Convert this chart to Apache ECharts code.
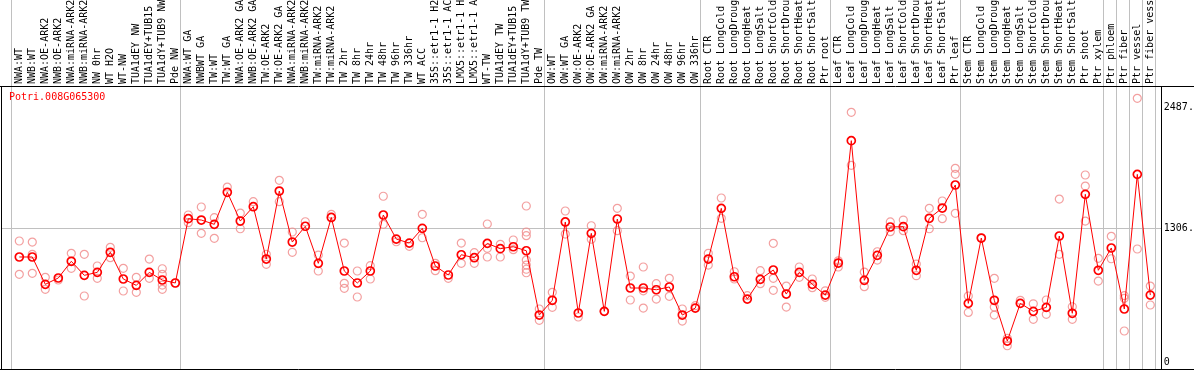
<!DOCTYPE html>
<html><head><meta charset="utf-8">
<script src="https://cdn.jsdelivr.net/npm/echarts@6/dist/echarts.min.js"></script>
<style>html,body{margin:0;padding:0;background:#fff}#c{width:1194px;height:370px}</style>
</head><body><div id="c"></div>
<script>
const geneName = 'Potri.008G065300';
const categories = [
 'NWA:WT','NWB:WT','NWA:OE-ARK2','NWB:OE-ARK2','NWA:miRNA-ARK2','NWB:miRNA-ARK2','NW 0hr','WT H2O','WT-NW','TUA1dEY NW','TUA1dEY+TUB15 NW','TUA1dY+TUB9 NW','Pde NW',
 'NWA:WT GA','NWBWT GA','TW:WT','TW:WT GA','NWA:OE-ARK2 GA','NWB:OE-ARK2 GA','TW:OE-ARK2','TW:OE-ARK2 GA','NWA:miRNA-ARK2 GA','NWB:miRNA-ARK2 GA','TW:miRNA-ARK2','TW:miRNA-ARK2',
 'TW 2hr','TW 8hr','TW 24hr','TW 48hr','TW 96hr','TW 336hr','WT ACC','35S::etr1-1 H2O','35S::etr1-1 ACC','LMX5::etr1-1 H2O','LMX5::etr1-1 ACC','WT-TW','TUA1dEY TW','TUA1dEY+TUB15 TW','TUA1dY+TUB9 TW','Pde TW',
 'OW:WT','OW:WT GA','OW:OE-ARK2','OW:OE-ARK2 GA','OW:miRNA-ARK2','OW:miRNA-ARK2','OW 2hr','OW 8hr','OW 24hr','OW 48hr','OW 96hr','OW 336hr',
 'Root CTR','Root LongCold','Root LongDrought','Root LongHeat','Root LongSalt','Root ShortCold','Root ShortDrought','Root ShortHeat','Root ShortSalt','Ptr root',
 'Leaf CTR','Leaf LongCold','Leaf LongDrought','Leaf LongHeat','Leaf LongSalt','Leaf ShortCold','Leaf ShortDrought','Leaf ShortHeat','Leaf ShortSalt','Ptr leaf',
 'Stem CTR','Stem LongCold','Stem LongDrought','Stem LongHeat','Stem LongSalt','Stem ShortCold','Stem ShortDrought','Stem ShortHeat','Stem ShortSalt','Ptr shoot','Ptr xylem',
 'Ptr phloem','Ptr fiber','Ptr vessel','Ptr fiber vessel'
];
// number of categories before each vertical separator
const groupEnds = [0,13,41,53,63,73,84,85,86,87,88];
const means = [
 1026,1026,759,821,984,847,876,1072,811,749,876,801,772,
 1400,1387,1345,1658,1377,1517,1006,1670,1172,1326,964,1412,889,772,889,1436,1201,1162,1306,938,850,1048,1019,1159,1107,1126,1087,459,
 603,1368,479,1257,495,1397,723,723,706,733,459,527,
 1006,1501,833,615,808,899,664,876,759,654,
 967,2162,798,1042,1319,1322,896,1404,1504,1729,
 573,1211,603,205,573,495,534,1231,476,1638,896,
 1114,518,1833,654
];
const replicates = [
 [1182,857],[1172,1052,866],[827,710],[801],[1062,915],[1052,645],[938,818],[1120,1019],[915,694],[827,681],[1006,818],[911,857,752,710],[772],
 [1436,1361],[1514,1257],[1410,1208],[1709],[1455,1302],[1566],[954,1052],[1775,1566],[1270,1072],[1370],[889,1045],[1443],
 [1162,769,720],[889,635],[941,811],[1619,1345],[1175],[1130],[1443,1214],[964,892],[818],[1162,964],[1068,964],[1348,1111,1026],[1150,1026],[1192,1097],[1524,1270,1234,996,947,906,872],[518,407],
 [681,534],[1475,1250],[440],[1331,1199],[495],[1501,1283],[840,606],[928,527,696],[765,615],[818,642],[518,400],[550],
 [1062,947],[1602,1404],[882,811],[648],[892,765],[1159,818,700],[742,537],[928,827],[811,726],[696,632],
 [989,928],[2439,1921],[879,736],[1077,996],[1368,1273],[1387,1283],[957,843],[1501,1302],[1573,1400],[1892,1833,1452],
 [645,485],[1211],[818,537,459],[159,232],[603],[569,417],[606,466],[1592,1052],[540,417],[1827,1719,1377],[1013,791],
 [1228,1009],[648,622,303],[2576,1104],[742,557]
];
const yTickValues = [0,1306,2487];
const yTickLabels = ['0','1306.','2487.'];
const yGridValues = [1306];

const repPoints = [];
replicates.forEach((arr,i)=>arr.forEach(v=>repPoints.push([i,v])));

const chart = echarts.init(document.getElementById('c'), null, {renderer:'canvas'});
const mono = 'DejaVu Sans Mono';
chart.setOption({
  animation:false,
  backgroundColor:'#fff',
  title:{text:geneName,left:9,top:92,padding:0,textStyle:{color:'#ff0000',fontSize:10,fontWeight:'normal',fontFamily:mono}},
  grid:{left:12.8,right:37.2,top:86,bottom:1,containLabel:false,outerBoundsMode:'none'},
  xAxis:[
    {type:'category',data:categories,position:'top',boundaryGap:true,
     axisLine:{show:false},axisTick:{show:false},splitLine:{show:false},
     axisLabel:{interval:0,rotate:90,margin:2,fontSize:10,fontFamily:mono,color:'#000',hideOverlap:false}},
    {type:'value',min:-0.5,max:87.5,show:false,splitLine:{show:false}}
  ],
  yAxis:{type:'value',position:'right',min:-68,max:2696,
    axisLine:{show:false},axisTick:{show:false},splitLine:{show:false},
    axisLabel:{customValues:yTickValues,margin:7,fontSize:10,fontFamily:mono,color:'#000',
      formatter:(v)=>{const k=yTickValues.indexOf(v);return k>=0?yTickLabels[k]:'';}}},
  series:[
    {type:'scatter',data:repPoints,symbol:'circle',symbolSize:8,z:2,silent:true,
     itemStyle:{color:'rgba(0,0,0,0)',borderColor:'#f08888',borderWidth:1.2}},
    {type:'line',data:means,symbol:'circle',symbolSize:8,z:3,silent:true,showSymbol:true,
     lineStyle:{color:'#ff0000',width:1},
     itemStyle:{color:'rgba(0,0,0,0)',borderColor:'#ff0000',borderWidth:1.7}}
  ]
});

const gray = '#c0c0c0';
const els = [];
groupEnds.forEach(k=>{
  const x = Math.round(chart.convertToPixel({xAxisIndex:1}, k-1+5/13))+0.5;
  els.push({type:'line',z:0,silent:true,shape:{x1:x,y1:0,x2:x,y2:369},style:{stroke:gray,lineWidth:1}});
});
yGridValues.forEach(v=>{
  const y = Math.round(chart.convertToPixel({yAxisIndex:0}, v))+0.5;
  els.push({type:'line',z:0,silent:true,shape:{x1:1,y1:y,x2:1161,y2:y},style:{stroke:gray,lineWidth:1}});
});
const blk = {stroke:'#000',lineWidth:1};
els.push({type:'line',z:10,silent:true,shape:{x1:0,y1:86.5,x2:1194,y2:86.5},style:blk});
els.push({type:'line',z:10,silent:true,shape:{x1:1.5,y1:86,x2:1.5,y2:370},style:blk});
els.push({type:'line',z:10,silent:true,shape:{x1:1161.5,y1:86,x2:1161.5,y2:370},style:blk});
els.push({type:'line',z:10,silent:true,shape:{x1:0,y1:369.5,x2:1194,y2:369.5},style:blk});
chart.setOption({graphic:{elements:els}});
</script></body></html>
